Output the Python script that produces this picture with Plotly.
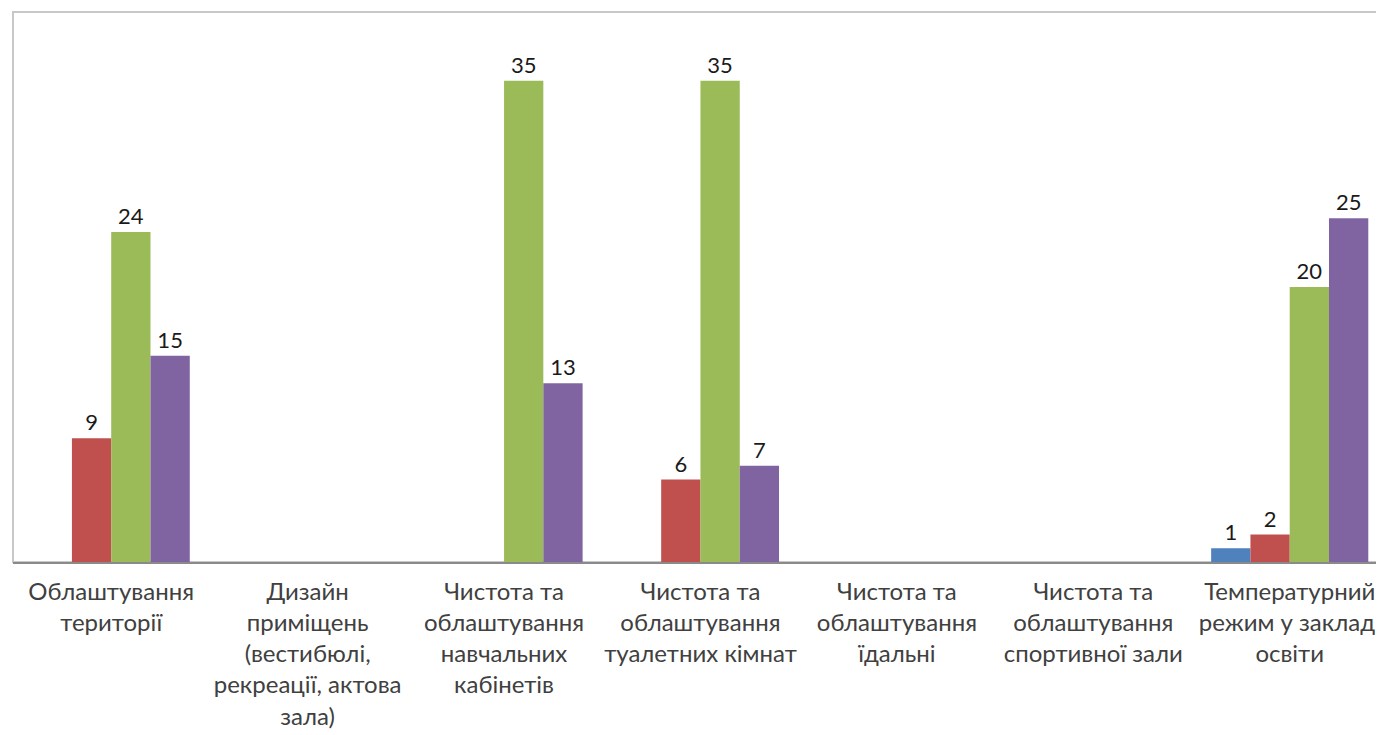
import plotly.graph_objects as go

categories = [
    "Облаштування<br>території",
    "Дизайн<br>приміщень<br>(вестибюлі,<br>рекреації, актова<br>зала)",
    "Чистота та<br>облаштування<br>навчальних<br>кабінетів",
    "Чистота та<br>облаштування<br>туалетних кімнат",
    "Чистота та<br>облаштування<br>їдальні",
    "Чистота та<br>облаштування<br>спортивної зали",
    "Температурний<br>режим у закладі<br>освіти",
]

series_blue = [None, None, None, None, None, None, 1]
series_red = [9, None, None, 6, None, None, 2]
series_green = [24, None, 35, 35, None, None, 20]
series_purple = [15, None, 13, 7, None, None, 25]

colors = ["#4F81BD", "#C0504D", "#9BBB59", "#8064A2"]
series = [series_blue, series_red, series_green, series_purple]
names = ["Ряд 1", "Ряд 2", "Ряд 3", "Ряд 4"]

FONT = "Lato"
x_idx = list(range(len(categories)))

fig = go.Figure()
for vals, col, nm in zip(series, colors, names):
    fig.add_trace(go.Bar(
        x=x_idx, y=vals, name=nm,
        marker=dict(color=col, line=dict(width=0)),
        text=[("" if v is None else str(v)) for v in vals],
        textposition="outside",
        textfont=dict(family=FONT, size=22, color="#1a1a1a"),
        constraintext="none",
        cliponaxis=False,
    ))

fig.update_layout(
    width=1376, height=727,
    margin=dict(l=5, r=0, t=4, b=173),
    paper_bgcolor="white", plot_bgcolor="white",
    barmode="group", bargap=0.2, bargroupgap=0,
    showlegend=False,
    font=dict(family=FONT, size=24, color="#404040"),
    shapes=[dict(type="rect", xref="paper", yref="paper",
                 x0=0, y0=0, x1=1.02, y1=1,
                 line=dict(color="#C8C8C8", width=2), layer="below")],
)
fig.update_xaxes(
    tickmode="array", tickvals=x_idx, ticktext=categories,
    range=[-0.5, 6.48], showgrid=False, zeroline=False,
    showline=True, linecolor="#8A8A8A", linewidth=2, ticks="",
    tickfont=dict(family=FONT, size=24, color="#404040"),
    tickangle=0, ticklabelstandoff=7,
)
fig.update_yaxes(
    range=[0, 40], showgrid=False, zeroline=False, showticklabels=False,
    showline=False, ticks="",
)

fig.write_html("out.html")
